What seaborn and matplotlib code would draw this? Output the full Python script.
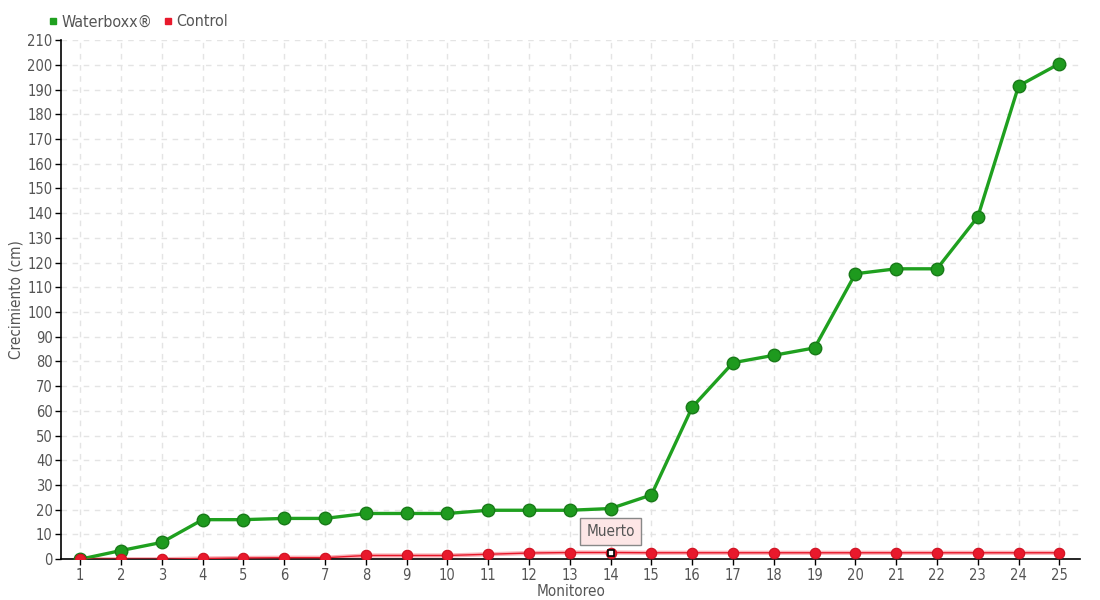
import pandas as pd
import numpy as np
import seaborn as sns
import matplotlib.pyplot as plt
from matplotlib.lines import Line2D

# data
monitoreo = list(range(1, 26))
waterboxx = [0, 3.5, 6.8, 16, 16, 16.5, 16.5, 18.5, 18.5, 18.5, 19.8, 19.8, 19.8, 20.5,
             26, 61.5, 79.5, 82.5, 85.5, 115.5, 117.5, 117.5, 138.5, 191.5, 200.5]
control = [0, 0, 0, 0.3, 0.5, 0.6, 0.6, 1.5, 1.5, 1.5, 2, 2.5, 2.7, 2.7,
           2.6, 2.6, 2.6, 2.6, 2.6, 2.6, 2.6, 2.6, 2.6, 2.6, 2.6]
series_names = ['Waterboxx®', 'Control']
y_ticks = list(range(0, 211, 10))
note_idx = 13
note_text = 'Muerto'

df = pd.DataFrame({'Monitoreo': monitoreo, 'Waterboxx': waterboxx, 'Control': control})

sns.set_style('white')
plt.rcParams['font.family'] = ['DejaVu Sans', 'Liberation Sans']
plt.rcParams['font.stretch'] = 'condensed'
txt = '#555555'

fig = plt.figure(figsize=(11, 6), dpi=100)
ax = fig.add_axes([0.0555, 0.068, 0.9265, 0.865])

green = '#1fa01f'
red = '#e8192c'

sns.lineplot(data=df, x='Monitoreo', y='Waterboxx', ax=ax, color=green, linewidth=2.4,
             marker='o', markersize=9, markerfacecolor='#1e9a1e', markeredgecolor='#187a18',
             markeredgewidth=1, zorder=4)
# light pink halo under the red line
sns.lineplot(data=df, x='Monitoreo', y='Control', ax=ax, color='#f9b0b6', linewidth=3,
             zorder=2)
sns.lineplot(data=df, x='Monitoreo', y='Control', ax=ax, color=red, linewidth=1,
             marker='o', markersize=7.5, markerfacecolor=red, markeredgecolor='#d01020',
             markeredgewidth=0.8, zorder=5)

# highlighted point
ax.plot(monitoreo[note_idx], control[note_idx], marker='s', markersize=4.5,
        markerfacecolor='white', markeredgecolor='black', markeredgewidth=1.2, zorder=6)
ax.annotate(note_text, xy=(monitoreo[note_idx], control[note_idx]),
            xytext=(0, 15), textcoords='offset points', ha='center', va='center',
            fontsize=11, color=txt,
            bbox=dict(boxstyle='square,pad=0.4', fc='#fde6e6', ec='#888888', lw=1),
            zorder=7)

ax.set_xlim(0.53, 25.51)
ax.set_ylim(0, 210)
ax.set_xticks(monitoreo)
ax.set_yticks(y_ticks)
ax.tick_params(axis='both', colors='black', labelcolor=txt, labelsize=10.5, length=4,
               width=1, direction='out', left=True, bottom=True, pad=2)
ax.grid(True, color='#e4e4e4', linestyle=(0, (4, 4)), linewidth=1)
ax.set_axisbelow(True)
for side in ['top', 'right']:
    ax.spines[side].set_visible(False)
for side in ['left', 'bottom']:
    ax.spines[side].set_color('black')
    ax.spines[side].set_linewidth(1.2)

ax.set_xlabel('Monitoreo', fontsize=11, color=txt, labelpad=1)
ax.set_ylabel('Crecimiento (cm)', fontsize=11, color=txt, labelpad=3)

handles = [Line2D([], [], linestyle='none', marker='s', markersize=5, color=green),
           Line2D([], [], linestyle='none', marker='s', markersize=5, color=red)]
fig.legend(handles, series_names, loc='upper left', bbox_to_anchor=(0.028, 1.0),
           ncol=2, frameon=False, fontsize=11.5, labelcolor=txt, handletextpad=0.0,
           columnspacing=0.5, handlelength=1.0)

fig.savefig('out.png', dpi=100)
